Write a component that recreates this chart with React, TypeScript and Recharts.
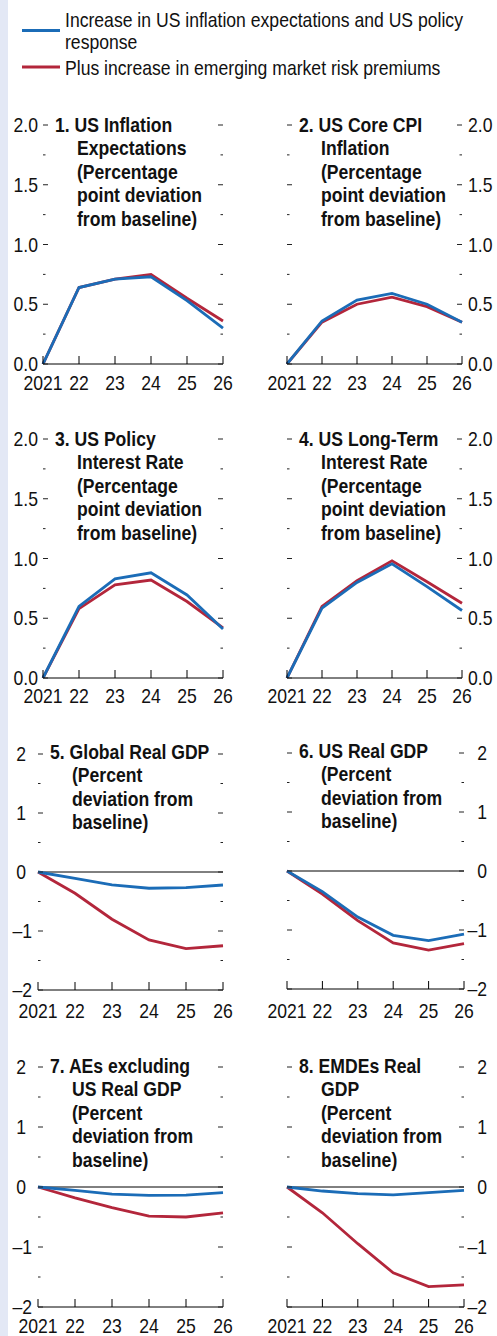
import { LineChart, Line, XAxis, YAxis, ReferenceLine } from "recharts";

const FONT = "'Liberation Sans', Arial, sans-serif";
const SQ = 0.88; // horizontal squeeze to mimic a condensed face
const BLUE = "#1b6cb7";
const RED = "#b3263b";

const years = [2021, 2022, 2023, 2024, 2025, 2026];
const yearLabels = ["2021", "22", "23", "24", "25", "26"];

const legendBlue = ["Increase in US inflation expectations and US policy", "response"];
const legendRed = ["Plus increase in emerging market risk premiums"];

const ppTicks = [0, 0.25, 0.5, 0.75, 1, 1.25, 1.5, 1.75, 2];
const pctTicks = [-2, -1.5, -1, -0.5, 0, 0.5, 1, 1.5, 2];

// panel values
const inflExpBlue = [0, 0.64, 0.71, 0.73, 0.53, 0.3];
const inflExpRed = [0, 0.64, 0.71, 0.75, 0.55, 0.36];
const coreCpiBlue = [0, 0.36, 0.535, 0.59, 0.5, 0.35];
const coreCpiRed = [0, 0.35, 0.5, 0.56, 0.48, 0.35];
const policyBlue = [0, 0.6, 0.83, 0.88, 0.695, 0.41];
const policyRed = [0, 0.58, 0.78, 0.82, 0.64, 0.42];
const longRateBlue = [0, 0.585, 0.8, 0.955, 0.765, 0.565];
const longRateRed = [0, 0.6, 0.815, 0.98, 0.805, 0.625];
const globalGdpBlue = [0, -0.11, -0.22, -0.275, -0.265, -0.22];
const globalGdpRed = [0, -0.36, -0.8, -1.15, -1.3, -1.25];
const usGdpBlue = [0, -0.35, -0.78, -1.09, -1.18, -1.07];
const usGdpRed = [0, -0.39, -0.84, -1.22, -1.34, -1.23];
const aeGdpBlue = [0, -0.055, -0.12, -0.14, -0.135, -0.095];
const aeGdpRed = [0, -0.18, -0.345, -0.485, -0.5, -0.43];
const emdeGdpBlue = [0, -0.067, -0.11, -0.13, -0.095, -0.055];
const emdeGdpRed = [0, -0.43, -0.945, -1.43, -1.66, -1.63];

type Panel = {
  title: string[];
  blue: number[];
  red: number[];
  pct: boolean;
  side: "left" | "right";
  box: [number, number, number, number]; // plot left, right, top, bottom
  titleX: [number, number];
  titleY: number;
  xGap: number;
};

const panels: Panel[] = [
  { title: ["1. US Inflation", "Expectations", "(Percentage", "point deviation", "from baseline)"], blue: inflExpBlue, red: inflExpRed, pct: false, side: "left", box: [43, 223, 125, 364], titleX: [55, 77], titleY: 132, xGap: 26 },
  { title: ["2. US Core CPI", "Inflation", "(Percentage", "point deviation", "from baseline)"], blue: coreCpiBlue, red: coreCpiRed, pct: false, side: "right", box: [287, 462, 125, 364], titleX: [299, 321], titleY: 132, xGap: 26 },
  { title: ["3. US Policy", "Interest Rate", "(Percentage", "point deviation", "from baseline)"], blue: policyBlue, red: policyRed, pct: false, side: "left", box: [43, 223, 439, 678], titleX: [55, 77], titleY: 446, xGap: 25 },
  { title: ["4. US Long-Term", "Interest Rate", "(Percentage", "point deviation", "from baseline)"], blue: longRateBlue, red: longRateRed, pct: false, side: "right", box: [287, 462, 439, 678], titleX: [299, 321], titleY: 446, xGap: 25 },
  { title: ["5. Global Real GDP", "(Percent", "deviation from", "baseline)"], blue: globalGdpBlue, red: globalGdpRed, pct: true, side: "left", box: [38, 223, 754, 990], titleX: [50, 72], titleY: 759, xGap: 28 },
  { title: ["6. US Real GDP", "(Percent", "deviation from", "baseline)"], blue: usGdpBlue, red: usGdpRed, pct: true, side: "right", box: [287, 464, 753, 989], titleX: [299, 321], titleY: 758, xGap: 29 },
  { title: ["7. AEs excluding", "US Real GDP", "(Percent", "deviation from", "baseline)"], blue: aeGdpBlue, red: aeGdpRed, pct: true, side: "left", box: [38, 223, 1067, 1307], titleX: [50, 72], titleY: 1073, xGap: 26 },
  { title: ["8. EMDEs Real", "GDP", "(Percent", "deviation from", "baseline)"], blue: emdeGdpBlue, red: emdeGdpRed, pct: true, side: "right", box: [287, 464, 1067, 1307], titleX: [299, 321], titleY: 1073, xGap: 26 },
];

const W = 497;
const CH = 310;
const AXW = 30;
const XH = 35;

function NText({ x, y, anchor = "start", bold = false, dy, children }: any) {
  return (
    <text
      transform={`translate(${x},${y}) scale(${SQ},1)`}
      dy={dy}
      textAnchor={anchor}
      fontSize={20}
      fontWeight={bold ? "bold" : "normal"}
      fontFamily={FONT}
      fill="#111"
    >
      {children}
    </text>
  );
}

function YTick(props: any) {
  const { x, y, payload, orient, labelled, pct } = props;
  const v = payload.value as number;
  const major = pct ? Number.isInteger(v) : Math.abs(v * 2 - Math.round(v * 2)) < 1e-6;
  const len = major ? 5 : 2.5;
  const dir = orient === "left" ? 1 : -1;
  let label: any = null;
  if (labelled && major) {
    const txt = pct ? (v < 0 ? "\u2013" + Math.abs(v) : String(v)) : v.toFixed(1);
    if (orient === "left") {
      const tx = pct ? x - (v < 0 ? 6 : 12) : x - 5;
      label = <NText x={tx} y={y} dy="0.36em" anchor="end">{txt}</NText>;
    } else {
      label = pct
        ? <NText x={x + 23} y={y} dy="0.36em" anchor="end">{txt}</NText>
        : <NText x={x + 6} y={y} dy="0.36em" anchor="start">{txt}</NText>;
    }
  }
  return (
    <g>
      <line x1={x} x2={x + dir * len} y1={y} y2={y} stroke="#222" strokeWidth={1} />
      {label}
    </g>
  );
}

function XTick(props: any) {
  const { x, y, payload, gap } = props;
  const i = years.indexOf(payload.value);
  return (
    <g>
      <line x1={x} x2={x} y1={y} y2={y - 8} stroke="#000" strokeWidth={1} />
      <NText x={x} y={y + gap} anchor="middle">{yearLabels[i]}</NText>
    </g>
  );
}

function PanelChart({ p }: { p: Panel }) {
  const [l, r, t, b] = p.box;
  const top = t - 30;
  const data = years.map((yr, i) => ({ year: yr, blue: p.blue[i], red: p.red[i] }));
  const ticks = p.pct ? pctTicks : ppTicks;
  const domain = p.pct ? [-2, 2] : [0, 2];
  return (
    <div style={{ position: "absolute", left: 0, top, width: W, height: CH }}>
      <LineChart
        width={W}
        height={CH}
        data={data}
        margin={{ left: l - AXW, right: W - r - AXW, top: 30, bottom: CH - (b - top) - XH }}
      >
        <XAxis
          dataKey="year"
          type="number"
          domain={[2021, 2026]}
          ticks={years}
          interval={0}
          height={XH}
          tickSize={0}
          tickMargin={0}
          tickLine={false}
          axisLine={{ stroke: "#000", strokeWidth: 1 }}
          tick={(tp: any) => <XTick {...tp} gap={p.xGap} />}
        />
        <YAxis
          yAxisId="l"
          orientation="left"
          width={AXW}
          domain={domain}
          allowDataOverflow
          ticks={ticks}
          interval={0}
          tickSize={0}
          tickMargin={0}
          tickLine={false}
          axisLine={false}
          tick={(tp: any) => <YTick {...tp} orient="left" labelled={p.side === "left"} pct={p.pct} />}
        />
        <YAxis
          yAxisId="r"
          orientation="right"
          width={AXW}
          domain={domain}
          allowDataOverflow
          ticks={ticks}
          interval={0}
          tickSize={0}
          tickMargin={0}
          tickLine={false}
          axisLine={false}
          tick={(tp: any) => <YTick {...tp} orient="right" labelled={p.side === "right"} pct={p.pct} />}
        />
        {p.pct && <ReferenceLine yAxisId="l" y={0} stroke="#000" strokeWidth={1} />}
        {/* both axes share one domain, so each series can sit on either */}
        <Line yAxisId="r" dataKey="red" type="linear" stroke={RED} strokeWidth={2.8} dot={false} isAnimationActive={false} />
        <Line yAxisId="l" dataKey="blue" type="linear" stroke={BLUE} strokeWidth={2.8} dot={false} isAnimationActive={false} />
      </LineChart>
    </div>
  );
}

export default function App() {
  return (
    <div style={{ position: "absolute", left: 0, top: 0, width: W, height: 1336, background: "#fff", overflow: "hidden" }}>
      <div style={{ position: "absolute", left: 0, top: 0, width: 8, height: 1336, background: "#e3e8f5" }} />
      {panels.map((p, i) => <PanelChart key={i} p={p} />)}
      <svg width={W} height={1336} style={{ position: "absolute", left: 0, top: 0, pointerEvents: "none" }}>
        <line x1={22} x2={60} y1={30.5} y2={30.5} stroke={BLUE} strokeWidth={2.8} />
        <line x1={22} x2={60} y1={67} y2={67} stroke={RED} strokeWidth={2.8} />
        {legendBlue.map((s, i) => (
          <NText key={"b" + i} x={65} y={27 + i * 22}>{s}</NText>
        ))}
        {legendRed.map((s, i) => (
          <NText key={"r" + i} x={65} y={75 + i * 22}>{s}</NText>
        ))}
        {panels.map((p, i) => (
          <g key={i}>
            {p.title.map((s, j) => (
              <NText key={j} x={j === 0 ? p.titleX[0] : p.titleX[1]} y={p.titleY + j * 23.4} bold>{s}</NText>
            ))}
          </g>
        ))}
      </svg>
    </div>
  );
}
